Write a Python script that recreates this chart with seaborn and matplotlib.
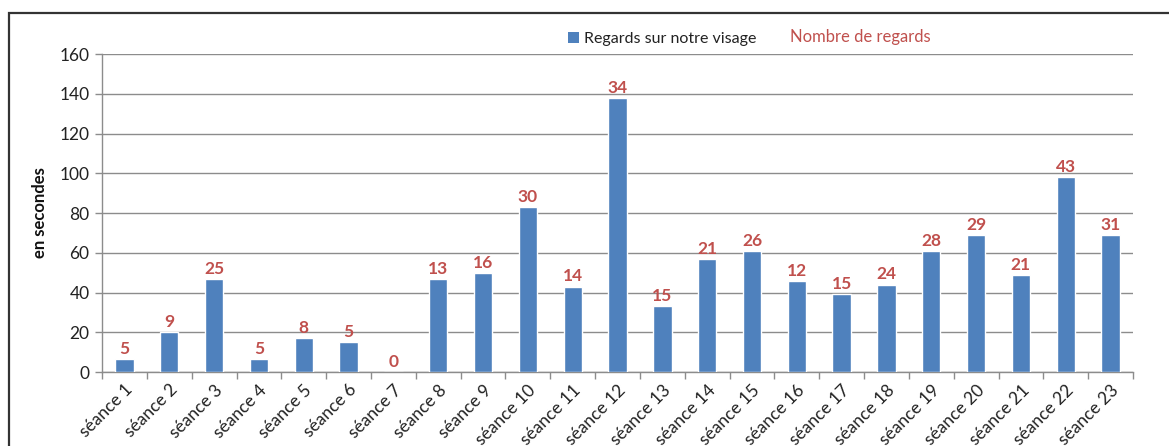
import matplotlib
matplotlib.use("Agg")
import matplotlib.pyplot as plt
import seaborn as sns
import pandas as pd
from matplotlib.patches import Patch, Rectangle

seances = [f"séance {i}" for i in range(1, 24)]
secondes = [6.5, 20, 47, 6.5, 17, 15, 0, 47, 50, 83, 43, 138, 33, 57, 61, 46, 39,
            44, 61, 69, 49, 98, 69]
nombre_regards = [5, 9, 25, 5, 8, 5, 0, 13, 16, 30, 14, 34, 15, 21, 26, 12, 15,
                  24, 28, 29, 21, 43, 31]
y_ticks = [0, 20, 40, 60, 80, 100, 120, 140, 160]

sns.set_theme(style="white")
plt.rcParams['font.family'] = ['Lato', 'DejaVu Sans']

blue = "#4F81BD"
red = "#C0504D"
grid_c = "#8C8C8C"

df = pd.DataFrame({"seance": seances, "secondes": secondes})

fig = plt.figure(figsize=(11.69, 4.46), dpi=100)
ax = fig.add_axes([0.0873, 0.1659, 0.9692 - 0.0873, 0.8789 - 0.1659])

sns.barplot(data=df, x="seance", y="secondes", color=blue, width=0.41,
            saturation=1, ax=ax, zorder=3)

ax.set_ylim(0, 160)
ax.set_xlim(-0.5, len(seances) - 0.5)
ax.set_yticks(y_ticks)
ax.yaxis.grid(True, color=grid_c, linewidth=1.0, zorder=0)
ax.set_axisbelow(True)

for s in ["top", "right"]:
    ax.spines[s].set_visible(False)
for s in ["left", "bottom"]:
    ax.spines[s].set_color(grid_c)
    ax.spines[s].set_linewidth(1.0)

ax.tick_params(axis="y", left=True, length=5, color=grid_c, width=1,
               labelsize=12.5, labelcolor="#222222", pad=4)
ax.set_xticks(range(len(seances)))
ax.set_xticklabels(seances, rotation=45, ha="right", rotation_mode="anchor",
                   fontsize=12.5, color="#222222")
ax.tick_params(axis="x", which="major", length=0, pad=7)
ax.set_xticks([i - 0.5 for i in range(len(seances) + 1)], minor=True)
ax.tick_params(axis="x", which="minor", bottom=True, length=5, color=grid_c, width=1)

ax.set_xlabel("")
ax.set_ylabel("en secondes", fontsize=12, fontweight="bold", color="#111111", labelpad=8)

for i, (v, n) in enumerate(zip(secondes, nombre_regards)):
    ax.annotate(str(n), xy=(i, v), xytext=(0, 1.5), textcoords="offset points",
                ha="center", va="bottom", color=red, fontsize=12.5,
                fontweight="bold", zorder=4)

fig.legend(handles=[Patch(facecolor=blue, edgecolor="none", label="Regards sur notre visage")],
           loc="center left", bbox_to_anchor=(560 / 1169, 1 - 39 / 446), frameon=False,
           fontsize=11.5, handlelength=0.7, handleheight=0.7, handletextpad=0.3,
           borderpad=0, labelcolor="#222222")
fig.text(790 / 1169, 1 - 37 / 446, "Nombre de regards", color=red, fontsize=12,
         ha="left", va="center")

fig.patches.append(Rectangle((9 / 1169, -0.1), 1.2, 1 - 13 / 446 + 0.1,
                             transform=fig.transFigure, fill=False,
                             edgecolor="#333333", linewidth=1.6))

fig.savefig("out.png", dpi=100)
